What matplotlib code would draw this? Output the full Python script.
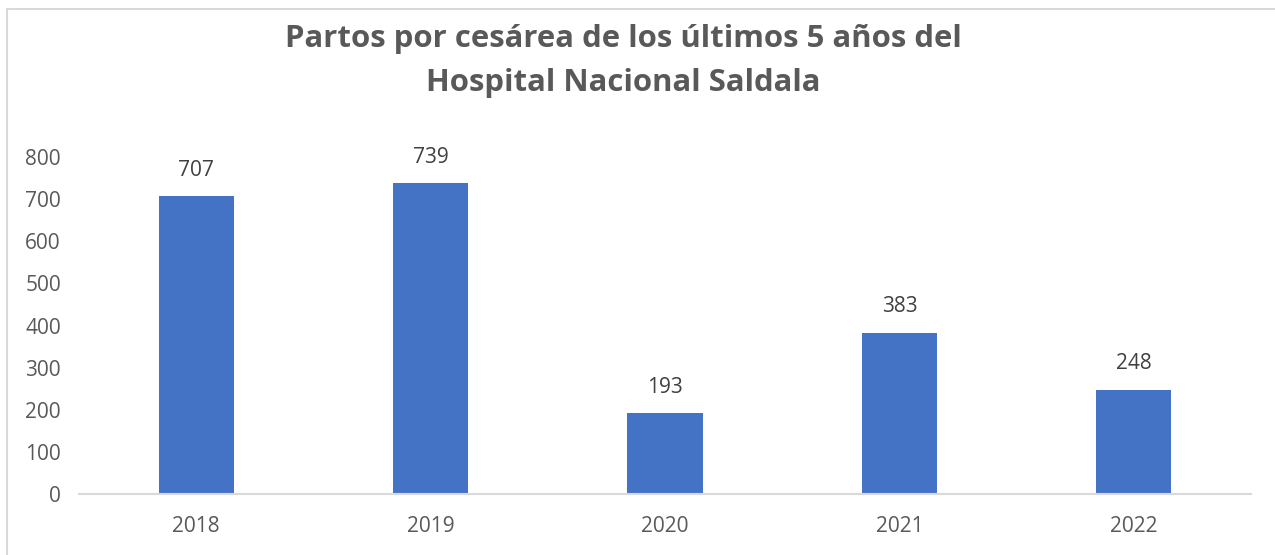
import matplotlib
matplotlib.use("Agg")
import matplotlib.pyplot as plt
from matplotlib.patches import Rectangle

years = ["2018", "2019", "2020", "2021", "2022"]
values = [707, 739, 193, 383, 248]
yticks = [0, 100, 200, 300, 400, 500, 600, 700, 800]
title = "Partos por cesárea de los últimos 5 años del\nHospital Nacional Saldala"

plt.rcParams['font.family'] = ['Open Sans', 'DejaVu Sans']

W, H = 1275, 555
fig = plt.figure(figsize=(W / 100, H / 100), dpi=100)

# outer chart border
fig.add_artist(Rectangle((7 / W, -0.1), 1.2, 1 - 9 / H + 0.1, transform=fig.transFigure,
                         fill=False, edgecolor="#d9d9d9", linewidth=1.5))

left, right = 79 / W, 1251 / W
bottom, top = 1 - 494 / H, 1 - 157 / H
ax = fig.add_axes([left, bottom, right - left, top - bottom])

x = range(len(years))
ax.bar(x, values, width=0.32, color="#4472c4")
for xi, v in zip(x, values):
    ax.text(xi, v + 36, str(v), ha="center", va="bottom", fontsize=15, color="#404040")

ax.set_xlim(-0.5, len(years) - 0.5)
ax.set_ylim(0, 800)
ax.set_yticks(yticks)
ax.set_yticklabels([str(t) for t in yticks])
ax.set_xticks(list(x))
ax.set_xticklabels(years)
ax.tick_params(axis="both", length=0, labelsize=15, labelcolor="#595959")
ax.tick_params(axis="y", pad=13)
ax.tick_params(axis="x", pad=16)
for s in ["top", "right", "left"]:
    ax.spines[s].set_visible(False)
ax.spines["bottom"].set_color("#d9d9d9")
ax.spines["bottom"].set_linewidth(1.5)

fig.text(623 / W, 1 - 61 / H, title, ha="center", va="center", fontsize=22.4,
         fontweight="bold", color="#595959", linespacing=1.6)

fig.savefig("out.png", dpi=100)
